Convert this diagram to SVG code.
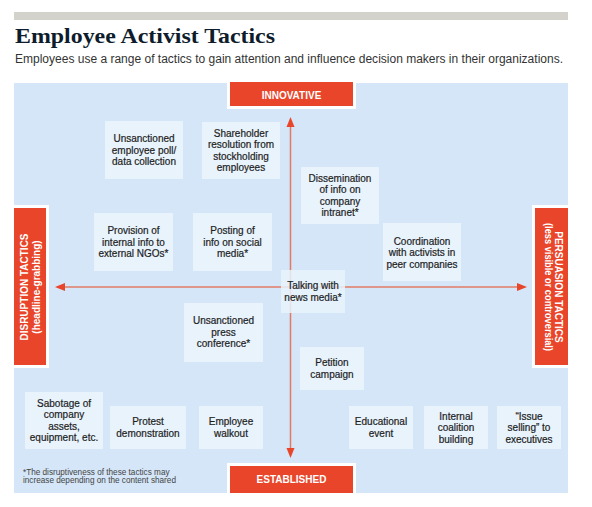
<svg xmlns="http://www.w3.org/2000/svg" width="592" height="507" viewBox="0 0 592 507">
<defs>
<style>
.node rect{fill:#e8f3fc}
.node text{font-family:"Liberation Sans",Arial,sans-serif;font-size:10px;fill:#1e1e1e;stroke:#1e1e1e;stroke-width:0.2;text-anchor:middle}
.lbl{font-family:"Liberation Sans",Arial,sans-serif;font-size:10px;font-weight:bold;fill:#ffffff;text-anchor:middle}
.red{fill:#e8452a}
.wb{fill:#ffffff}
.ax{stroke:#e27a66;stroke-width:1.5;fill:none}
.head{fill:#e8452a}
</style>
</defs>
<rect width="592" height="507" fill="#ffffff"/>
<rect x="14" y="12" width="554" height="8" fill="#d3d3cc"/>
<text x="15" y="43" font-family="'Liberation Serif','Times New Roman',serif" font-size="22" font-weight="bold" fill="#0e1c2c" textLength="260" lengthAdjust="spacingAndGlyphs">Employee Activist Tactics</text>
<text x="15" y="63" font-family="'Liberation Sans',Arial,sans-serif" font-size="12" fill="#333333" textLength="548" lengthAdjust="spacingAndGlyphs">Employees use a range of tactics to gain attention and influence decision makers in their organizations.</text>
<rect x="14" y="83" width="554" height="410" fill="#d4e6f7"/>

<g id="connectors">
<line class="ax" x1="290.5" y1="124" x2="290.5" y2="451"/>
<polygon class="head" points="290.5,117 286.5,127 294.5,127"/>
<polygon class="head" points="290.5,458 286.5,448 294.5,448"/>
<line class="ax" x1="62" y1="287" x2="520" y2="287"/>
<polygon class="head" points="55,287 65,283 65,291"/>
<polygon class="head" points="527,287 517,283 517,291"/>
</g>

<g id="innovative">
<rect class="wb" x="227" y="80" width="129" height="29"/>
<rect class="red" x="230" y="82" width="123" height="24"/>
<text class="lbl" x="291.5" y="99">INNOVATIVE</text>
</g>
<g id="established">
<rect class="wb" x="227" y="463" width="129" height="30"/>
<rect class="red" x="230" y="466" width="123" height="27"/>
<text class="lbl" x="291.5" y="483">ESTABLISHED</text>
</g>
<g id="disruption">
<rect class="wb" x="14" y="205" width="35" height="163"/>
<rect class="red" x="14" y="208" width="32" height="157"/>
<g transform="translate(27.5,287) rotate(-90)">
<text class="lbl" x="0" y="0">DISRUPTION TACTICS</text>
<text class="lbl" x="0" y="12">(headline-grabbing)</text>
</g>
</g>
<g id="persuasion">
<rect class="wb" x="532" y="205" width="36" height="163"/>
<rect class="red" x="535" y="208" width="33" height="157"/>
<g transform="translate(555,287) rotate(90)">
<text class="lbl" x="0" y="0">PERSUASION TACTICS</text>
<text class="lbl" x="0" y="10.5" textLength="128" lengthAdjust="spacingAndGlyphs">(less visible or controversial)</text>
</g>
</g>

<g id="poll" class="node"><rect x="105" y="121" width="78" height="58"/>
<text x="144" y="142">Unsanctioned</text><text x="144" y="153.5">employee poll/</text><text x="144" y="165">data collection</text></g>
<g id="shareholder" class="node"><rect x="202" y="122" width="78" height="57"/>
<text x="241" y="136.5">Shareholder</text><text x="241" y="148">resolution from</text><text x="241" y="159.5">stockholding</text><text x="241" y="171">employees</text></g>
<g id="dissemination" class="node"><rect x="301" y="167" width="78" height="57"/>
<text x="340" y="181.5">Dissemination</text><text x="340" y="193">of info on</text><text x="340" y="204.5">company</text><text x="340" y="216">intranet*</text></g>
<g id="provision" class="node"><rect x="94" y="213" width="79" height="58"/>
<text x="133.5" y="234">Provision of</text><text x="133.5" y="245.5">internal  info to</text><text x="133.5" y="257">external NGOs*</text></g>
<g id="posting" class="node"><rect x="193" y="213" width="79" height="58"/>
<text x="232.5" y="234">Posting of</text><text x="232.5" y="245.5">info on social</text><text x="232.5" y="257">media*</text></g>
<g id="coordination" class="node"><rect x="383" y="223" width="78" height="58"/>
<text x="422" y="244.5">Coordination</text><text x="422" y="256">with activists in</text><text x="422" y="267.5">peer companies</text></g>
<g id="talking" class="node"><rect x="281" y="270" width="64" height="43" fill-opacity="0.85"/>
<text x="313" y="289">Talking with</text><text x="313" y="300.5">news media*</text></g>
<g id="press" class="node"><rect x="184" y="303" width="79" height="59"/>
<text x="223.5" y="324">Unsanctioned</text><text x="223.5" y="335.5">press</text><text x="223.5" y="347">conference*</text></g>
<g id="petition" class="node"><rect x="300" y="347" width="64" height="43"/>
<text x="332" y="366">Petition</text><text x="332" y="377.5">campaign</text></g>
<g id="sabotage" class="node"><rect x="25" y="392" width="78" height="57"/>
<text x="64" y="406.5">Sabotage of</text><text x="64" y="418">company</text><text x="64" y="429.5">assets,</text><text x="64" y="441">equipment, etc.</text></g>
<g id="protest" class="node"><rect x="110" y="406" width="76" height="43"/>
<text x="148" y="425">Protest</text><text x="148" y="436.5">demonstration</text></g>
<g id="walkout" class="node"><rect x="199" y="406" width="64" height="43"/>
<text x="231" y="425">Employee</text><text x="231" y="436.5">walkout</text></g>
<g id="educational" class="node"><rect x="349" y="406" width="64" height="43"/>
<text x="381" y="425">Educational</text><text x="381" y="436.5">event</text></g>
<g id="internal" class="node"><rect x="424" y="406" width="64" height="43"/>
<text x="456" y="419.5">Internal</text><text x="456" y="431">coalition</text><text x="456" y="442.5">building</text></g>
<g id="issue" class="node"><rect x="497" y="406" width="64" height="43"/>
<text x="529" y="419.5">“Issue</text><text x="529" y="431">selling” to</text><text x="529" y="442.5">executives</text></g>

<g id="footnote" font-family="'Liberation Sans',Arial,sans-serif" font-size="8.2" fill="#444444">
<text x="23" y="474.5">*The disruptiveness of these tactics may</text>
<text x="23" y="483">increase depending on the content shared</text>
</g>
</svg>
